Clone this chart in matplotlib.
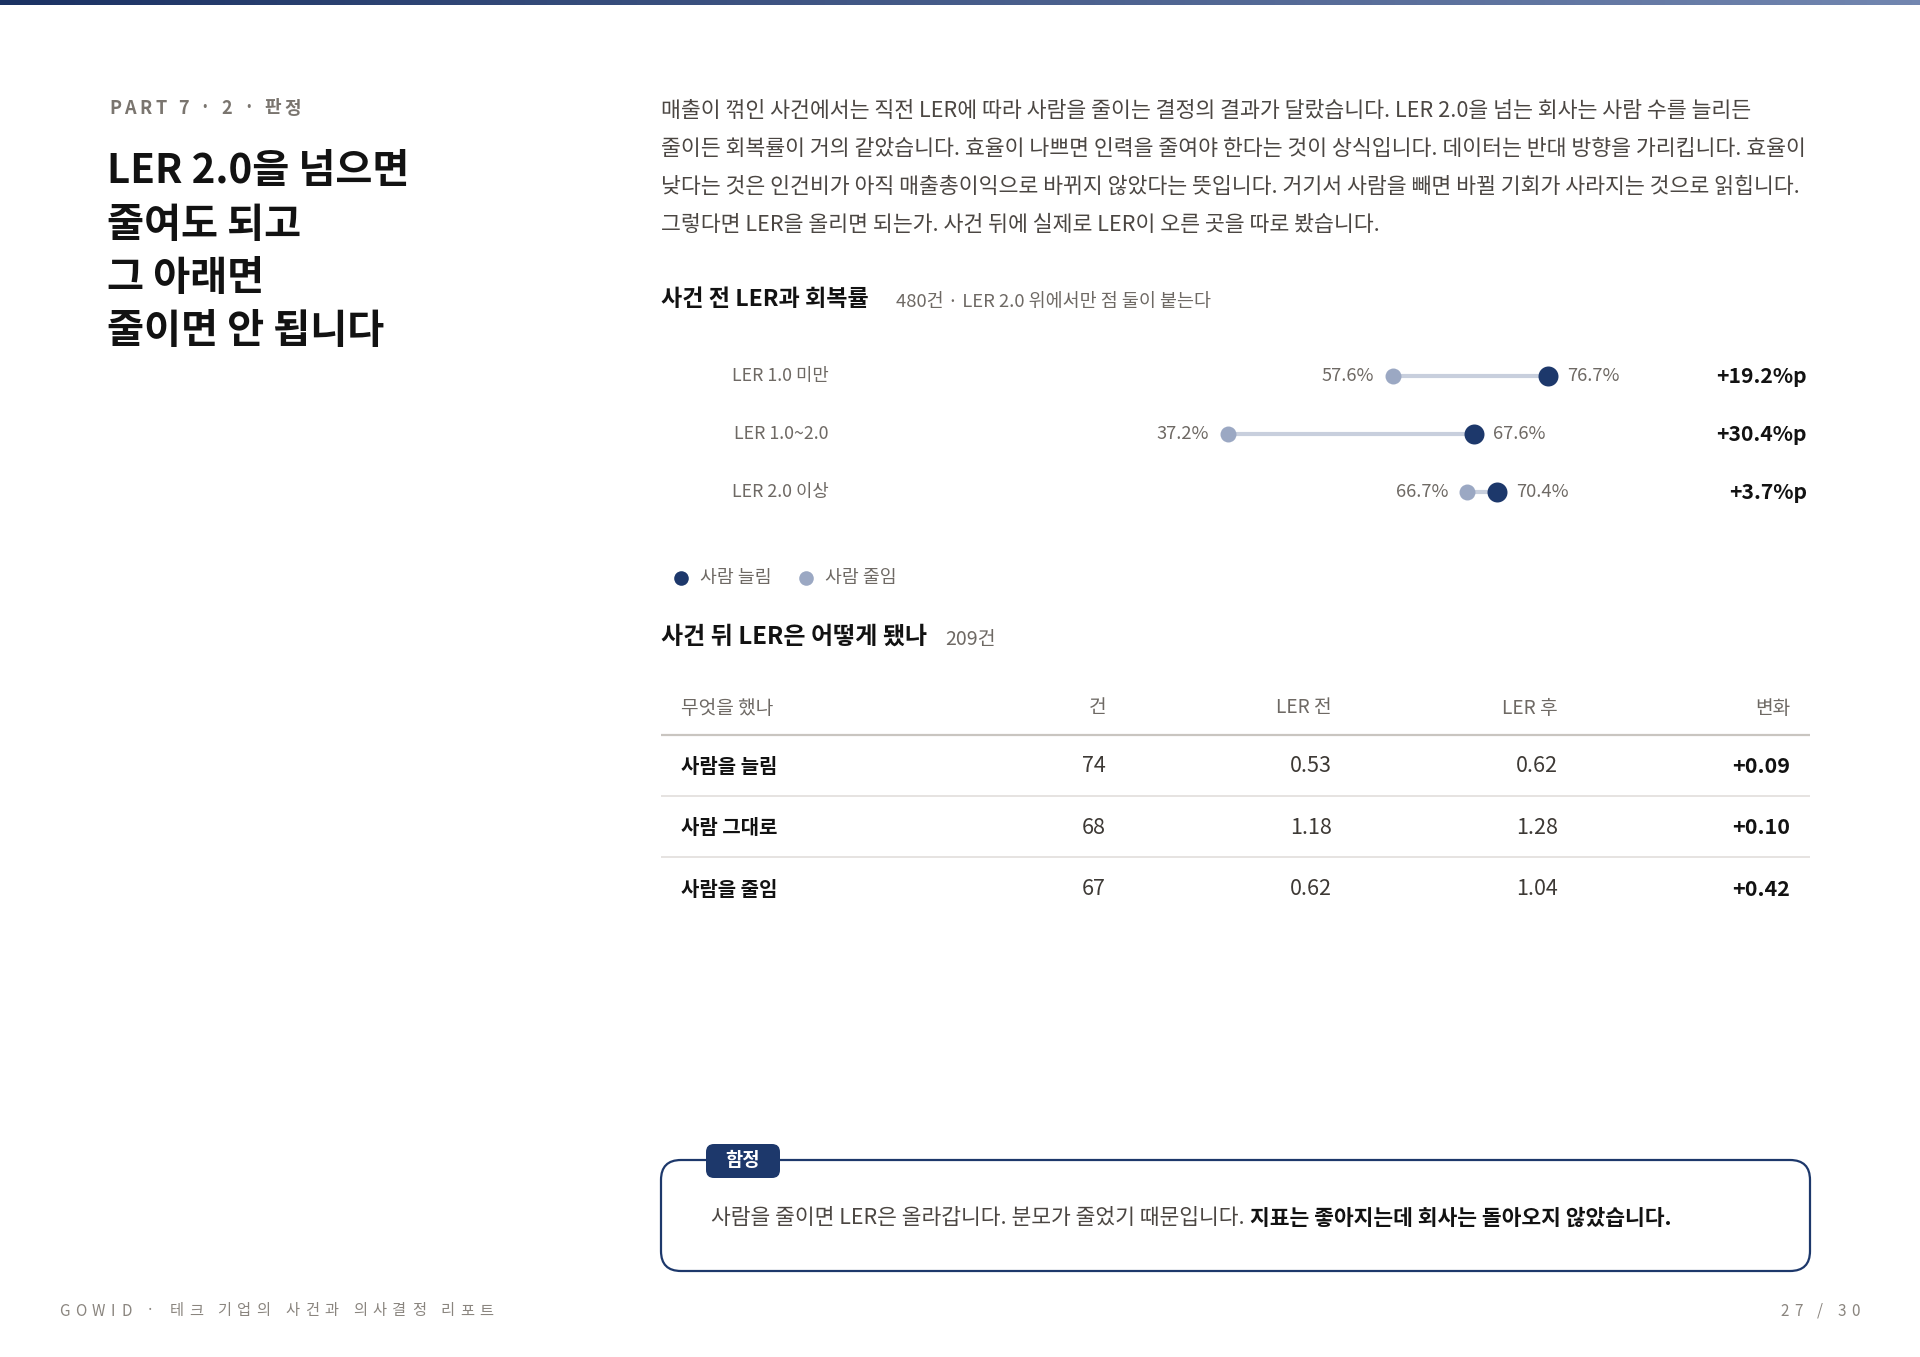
import matplotlib
matplotlib.use('Agg')
import matplotlib.pyplot as plt
import numpy as np
import matplotlib.transforms as mtransforms
from matplotlib.patches import FancyBboxPatch
from matplotlib.colors import LinearSegmentedColormap

plt.rcParams['font.family'] = ['Noto Sans CJK KR', 'DejaVu Sans']

# ---------------- data ----------------
part_label = "PART 7 · 2 · 판정"
title_lines = ["LER 2.0을 넘으면", "줄여도 되고", "그 아래면", "줄이면 안 됩니다"]
body_lines = [
    "매출이 꺾인 사건에서는 직전 LER에 따라 사람을 줄이는 결정의 결과가 달랐습니다. LER 2.0을 넘는 회사는 사람 수를 늘리든",
    "줄이든 회복률이 거의 같았습니다. 효율이 나쁘면 인력을 줄여야 한다는 것이 상식입니다. 데이터는 반대 방향을 가리킵니다. 효율이",
    "낮다는 것은 인건비가 아직 매출총이익으로 바뀌지 않았다는 뜻입니다. 거기서 사람을 빼면 바뀔 기회가 사라지는 것으로 읽힙니다.",
    "그렇다면 LER을 올리면 되는가. 사건 뒤에 실제로 LER이 오른 곳을 따로 봤습니다.",
]
chart1_title = "사건 전 LER과 회복률"
chart1_note = "480건 · LER 2.0 위에서만 점 둘이 붙는다"
ler_groups = ["LER 1.0 미만", "LER 1.0~2.0", "LER 2.0 이상"]
recov_cut = [57.6, 37.2, 66.7]     # 사람 줄임
recov_hire = [76.7, 67.6, 70.4]    # 사람 늘림
recov_gap = [19.2, 30.4, 3.7]
legend_labels = ["사람 늘림", "사람 줄임"]

chart2_title = "사건 뒤 LER은 어떻게 됐나"
chart2_note = "209건"
table_header = ["무엇을 했나", "건", "LER 전", "LER 후", "변화"]
actions = ["사람을 늘림", "사람 그대로", "사람을 줄임"]
counts = [74, 68, 67]
ler_before = [0.53, 1.18, 0.62]
ler_after = [0.62, 1.28, 1.04]
ler_change = [0.09, 0.10, 0.42]

callout_tag = "함정"
callout_regular = "사람을 줄이면 LER은 올라갑니다. 분모가 줄었기 때문입니다."
callout_bold = "지표는 좋아지는데 회사는 돌아오지 않았습니다."
footer_left = "GOWID · 테크 기업의 사건과 의사결정 리포트"
footer_right = "27 / 30"

# ---------------- style ----------------
NAVY = "#1d386b"
LIGHT = "#9ba8c3"
CONN = "#c8cfdd"
BLACK = "#121212"
BODY = "#4b4642"
GRAY = "#6e6964"
GRAY2 = "#8a857f"

W, H = 1920, 1357
fig = plt.figure(figsize=(19.2, 13.57), dpi=100)
fig.patch.set_facecolor("white")
bg = fig.add_axes([0, 0, 1, 1])
bg.axis("off")

# top gradient bar
cmap = LinearSegmentedColormap.from_list("g", ["#1b3263", "#7286b0"])
bg.imshow(np.linspace(0, 1, 256)[None, :], extent=[0, W, 5, 0], cmap=cmap, aspect="auto")
bg.set_xlim(0, W)
bg.set_ylim(H, 0)

renderer = fig.canvas.get_renderer()


def text_width(s, **kw):
    t = bg.text(0, 0, s, **kw)
    w = t.get_window_extent(renderer=renderer).width
    t.remove()
    return w


def char_w(ch, **kw):
    if ch == " ":
        return text_width("a a", **kw) - text_width("aa", **kw)
    return text_width(ch, **kw)


def spaced(x, y, s, spacing, ha="left", **kw):
    widths = [char_w(c, **kw) for c in s]
    total = sum(widths) + spacing * (len(s) - 1)
    if ha == "right":
        x = x - total
    cur = x
    for c, w in zip(s, widths):
        if c != " ":
            bg.text(cur, y, c, ha="left", va="center", **kw)
        cur += w + spacing


# ---------------- left column ----------------
spaced(109, 108, part_label, 3.5, fontsize=13, fontweight="bold", color="#7a756f")
for i, line in enumerate(title_lines):
    bg.text(107, 172 + i * 53.1, line, fontsize=29, fontweight="heavy", color=BLACK,
            ha="left", va="center")

# ---------------- body paragraph ----------------
for i, line in enumerate(body_lines):
    bg.text(661, 111 + i * 38, line, fontsize=15.6, color=BODY, ha="left", va="center")

# ---------------- chart 1: dumbbell ----------------
bg.text(661, 300, chart1_title, fontsize=16.6, fontweight="bold", color=BLACK, ha="left", va="center")
bg.text(896, 302, chart1_note, fontsize=13.3, color=GRAY, ha="left", va="center")

px_per = 8.12
x0px = 925.5
ax = fig.add_axes([661 / W, 1 - 521 / H, 1149 / W, 174 / H])
ax.set_xlim((661 - x0px) / px_per, (1810 - x0px) / px_per)
ax.set_ylim(2.5, -0.5)
ax.axis("off")
rows = np.arange(len(ler_groups))
for i in rows:
    ax.plot([recov_cut[i], recov_hire[i]], [i, i], color=CONN, lw=3, solid_capstyle="butt", zorder=1)
ax.plot(recov_cut, rows, "o", ms=11.5, color=LIGHT, mec="none", zorder=2)
ax.plot(recov_hire, rows, "o", ms=14.4, color=NAVY, mec="none", zorder=3)
trans = mtransforms.blended_transform_factory(ax.transAxes, ax.transData)
for i in rows:
    lo, hi = min(recov_cut[i], recov_hire[i]), max(recov_cut[i], recov_hire[i])
    ax.annotate(f"{lo:.1f}%", (lo, i), xytext=(-19, 0), textcoords="offset pixels",
                ha="right", va="center", fontsize=13.2, color=GRAY, fontweight="medium")
    ax.annotate(f"{hi:.1f}%", (hi, i), xytext=(19, 0), textcoords="offset pixels",
                ha="left", va="center", fontsize=13.2, color=GRAY, fontweight="medium")
    ax.text((829 - 661) / 1149, i, ler_groups[i], transform=trans, ha="right", va="center",
            fontsize=12.8, color=GRAY)
    ax.text((1807 - 661) / 1149, i, f"+{recov_gap[i]:.1f}%p", transform=trans, ha="right",
            va="center", fontsize=15.2, fontweight="bold", color=BLACK)

# legend
bg.plot(681, 578, "o", ms=10.5, color=NAVY, mec="none")
bg.text(700, 578, legend_labels[0], fontsize=13.2, color=GRAY, ha="left", va="center")
bg.plot(806, 578, "o", ms=10.5, color=LIGHT, mec="none")
bg.text(825, 578, legend_labels[1], fontsize=13.2, color=GRAY, ha="left", va="center")

# ---------------- chart 2: table ----------------
bg.text(661, 637, chart2_title, fontsize=17.3, fontweight="bold", color=BLACK, ha="left", va="center")
bg.text(945, 639, chart2_note, fontsize=14, color=GRAY, ha="left", va="center")

col_right = [1106, 1332, 1558, 1790]
hdr_y = 708
bg.text(681, hdr_y, table_header[0], fontsize=13.8, color=GRAY, fontweight="medium", ha="left", va="center")
for j, h in enumerate(table_header[1:]):
    bg.text(col_right[j], hdr_y, h, fontsize=13.8, color=GRAY, fontweight="medium", ha="right", va="center")
bg.plot([661, 1810], [735, 735], color="#c9c5c0", lw=1.6, solid_capstyle="butt")

row_y0, row_dy = 766.5, 61.3
for i in range(len(actions)):
    y = row_y0 + i * row_dy
    bg.text(681, y, actions[i], fontsize=14.4, fontweight="bold", color=BLACK, ha="left", va="center")
    bg.text(col_right[0], y, f"{counts[i]}", fontsize=15.5, color="#3d3935", ha="right", va="center")
    bg.text(col_right[1], y, f"{ler_before[i]:.2f}", fontsize=15.5, color="#3d3935", ha="right", va="center")
    bg.text(col_right[2], y, f"{ler_after[i]:.2f}", fontsize=15.5, color="#3d3935", ha="right", va="center")
    bg.text(col_right[3], y, f"+{ler_change[i]:.2f}", fontsize=15.5, fontweight="bold", color=BLACK,
            ha="right", va="center")
    if i < len(actions) - 1:
        ys = y + row_dy / 2 - 1
        bg.plot([661, 1810], [ys, ys], color="#e4e1de", lw=1.3, solid_capstyle="butt")

# ---------------- callout ----------------
box = FancyBboxPatch((661, 1160), 1149, 111, boxstyle="round,pad=0,rounding_size=20",
                     fc="white", ec=NAVY, lw=1.6)
bg.add_patch(box)
tag = FancyBboxPatch((706, 1144), 74, 34, boxstyle="round,pad=0,rounding_size=8",
                     fc=NAVY, ec="none", zorder=3)
bg.add_patch(tag)
bg.text(743, 1161, callout_tag, fontsize=13.5, fontweight="bold", color="white", ha="center",
        va="center", zorder=4)
ckw = dict(fontsize=15.5, color=BODY)
bg.text(711, 1218, callout_regular, ha="left", va="center", **ckw)
wreg = text_width(callout_regular, **ckw) + char_w(" ", **ckw)
bg.text(711 + wreg, 1218, callout_bold, ha="left", va="center", fontsize=15.5,
        fontweight="bold", color=BLACK)

# ---------------- footer ----------------
spaced(59, 1311, footer_left, 5.6, fontsize=11, color=GRAY2)
spaced(1860, 1311, footer_right, 5.5, ha="right", fontsize=11, color=GRAY2)

fig.savefig("out.png", dpi=100, facecolor="white")
